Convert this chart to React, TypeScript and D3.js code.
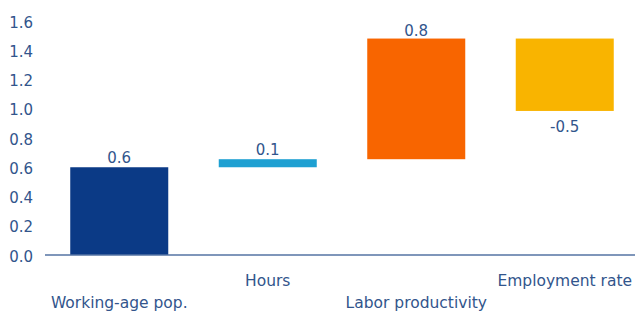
import React from 'react';
import * as d3 from 'd3';

const categories = ['Working-age pop.', 'Hours', 'Labor productivity', 'Employment rate'];
const deltas = [0.6, 0.055, 0.825, -0.495];
const valueLabels = ['0.6', '0.1', '0.8', '-0.5'];
const colors = ['#0b3a86', '#1ea0d2', '#f86500', '#f9b400'];
const yTicks = [0, 0.2, 0.4, 0.6, 0.8, 1.0, 1.2, 1.4, 1.6];

const W = 635;
const H = 315;
const textColor = '#32558c';
const font = '"DejaVu Sans", sans-serif';

const App = () => {
  const x = d3.scaleBand<string>()
    .domain(categories)
    .range([45, 639])
    .paddingInner(0.34)
    .paddingOuter(0.17);

  const y = d3.scaleLinear().domain([0, 1.6]).range([255, 21]);

  // running totals for the waterfall
  let total = 0;
  const steps = deltas.map((d, i) => {
    const start = total;
    total += d;
    return { name: categories[i], start, end: total, delta: d, label: valueLabels[i], color: colors[i] };
  });

  return (
    <svg width={W} height={H} style={{ position: 'absolute', left: 0, top: 0 }}>
      <rect width={W} height={H} fill="#fff" />
      {yTicks.map(t => (
        <text key={t} x={33} y={y(t) + 2} textAnchor="end" dominantBaseline="middle"
          fontFamily={font} fontSize={15} fill={textColor}>
          {t.toFixed(1)}
        </text>
      ))}
      {steps.map(s => {
        const top = y(Math.max(s.start, s.end));
        const bottom = y(Math.min(s.start, s.end));
        const cx = (x(s.name) as number) + x.bandwidth() / 2;
        return (
          <g key={s.name}>
            <rect x={x(s.name)} y={top} width={x.bandwidth()} height={bottom - top} fill={s.color} />
            <text x={cx} y={s.delta >= 0 ? Math.max(top - 4, 36) : bottom + 21} textAnchor="middle"
              fontFamily={font} fontSize={15} fill={textColor}>
              {s.label}
            </text>
          </g>
        );
      })}
      <line x1={45} x2={635} y1={y(0)} y2={y(0)} stroke="#5573a3" strokeWidth={1.5} />
      {categories.map((c, i) => (
        <text key={c} x={(x(c) as number) + x.bandwidth() / 2} y={i % 2 === 0 ? 308 : 286}
          textAnchor="middle" fontFamily={font} fontSize={15.5} fill={textColor}>
          {c}
        </text>
      ))}
    </svg>
  );
};

export default App;
